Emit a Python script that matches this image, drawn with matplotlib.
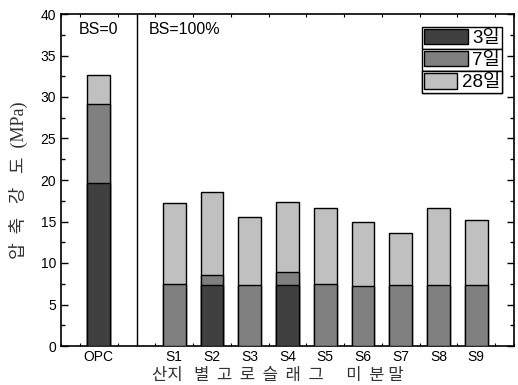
import matplotlib
matplotlib.use("Agg")
import matplotlib.pyplot as plt
from matplotlib.patches import Patch
from matplotlib.ticker import MultipleLocator
import numpy as np

categories = ["OPC", "S1", "S2", "S3", "S4", "S5", "S6", "S7", "S8", "S9"]
positions = [0, 2, 3, 4, 5, 6, 7, 8, 9, 10]
day3 = [19.6, 0, 7.3, 0, 7.3, 0, 0, 0, 0, 0]
day7 = [29.1, 7.5, 8.6, 7.4, 8.9, 7.5, 7.2, 7.3, 7.4, 7.4]
day28 = [32.6, 17.2, 18.6, 15.5, 17.35, 16.6, 14.9, 13.6, 16.6, 15.2]
series_labels = ["3일", "7일", "28일"]
colors = ["#404040", "#808080", "#c0c0c0"]

KFONT = ["Liberation Sans", "Noto Sans CJK KR"]
plt.rcParams['font.family'] = KFONT

fig = plt.figure(figsize=(5.18, 3.85), dpi=100)
ax = fig.add_axes([61/518, 1-346/385, 453/518, 332/385])

w = 0.6
ax.bar(positions, day28, width=w, color=colors[2], edgecolor="black", linewidth=1, zorder=2)
ax.bar(positions, day7, width=w, color=colors[1], edgecolor="black", linewidth=1, zorder=3)
d3 = np.array(day3)
mask = d3 > 0
ax.bar(np.array(positions)[mask], d3[mask], width=w, color=colors[0], edgecolor="black", linewidth=1, zorder=4)

ax.axvline(1, color="black", linewidth=1, zorder=1)

ax.set_xlim(-1, 11)
ax.set_ylim(0, 40)
ax.set_xticks(positions)
ax.set_xticklabels(categories, fontsize=10)
ax.xaxis.set_minor_locator(MultipleLocator(0.5))
ax.yaxis.set_major_locator(MultipleLocator(5))
ax.yaxis.set_minor_locator(MultipleLocator(2.5))
ax.tick_params(axis="y", which="major", direction="in", length=5, width=1, right=True, labelsize=10)
ax.tick_params(axis="y", which="minor", direction="in", length=3, width=1, right=True)
ax.tick_params(axis="x", which="major", direction="in", length=0, pad=3)
ax.tick_params(axis="x", which="minor", direction="in", length=2, width=0.8, top=True)
for s in ax.spines.values():
    s.set_linewidth(1.2)

ax.text(0, 38.1, "BS=0", ha="center", va="center", fontsize=11.5)
ax.text(1.32, 38.1, "BS=100%", ha="left", va="center", fontsize=11.5)

ax.set_ylabel("압  축   강   도  (MPa)", fontsize=13, family=["Liberation Serif", "Noto Sans CJK KR"],
              color="#333333", labelpad=9)
xl = ax.set_xlabel("산지   별  고  로  슬  래  그      미  분 말", fontsize=12,
                   family=["Noto Sans CJK KR"], color="#333333")
ax.xaxis.set_label_coords(0.478, -0.062)
xl.set_va("top")

tops = [0.961, 0.8946, 0.828]
hlens = [2.35, 2.35, 1.75]
for lab, col, top, hl in zip(series_labels, colors, tops, hlens):
    leg = ax.legend(handles=[Patch(facecolor=col, edgecolor="black", linewidth=1)], labels=[lab],
                    loc="upper right", bbox_to_anchor=(0.9735, top), fontsize=13.5,
                    fancybox=False, edgecolor="black", framealpha=1, borderpad=0.1,
                    handlelength=hl, handleheight=0.9, handletextpad=0.25, borderaxespad=0)
    leg.get_frame().set_linewidth(1)
    ax.add_artist(leg)

fig.savefig("out.png", dpi=100)
